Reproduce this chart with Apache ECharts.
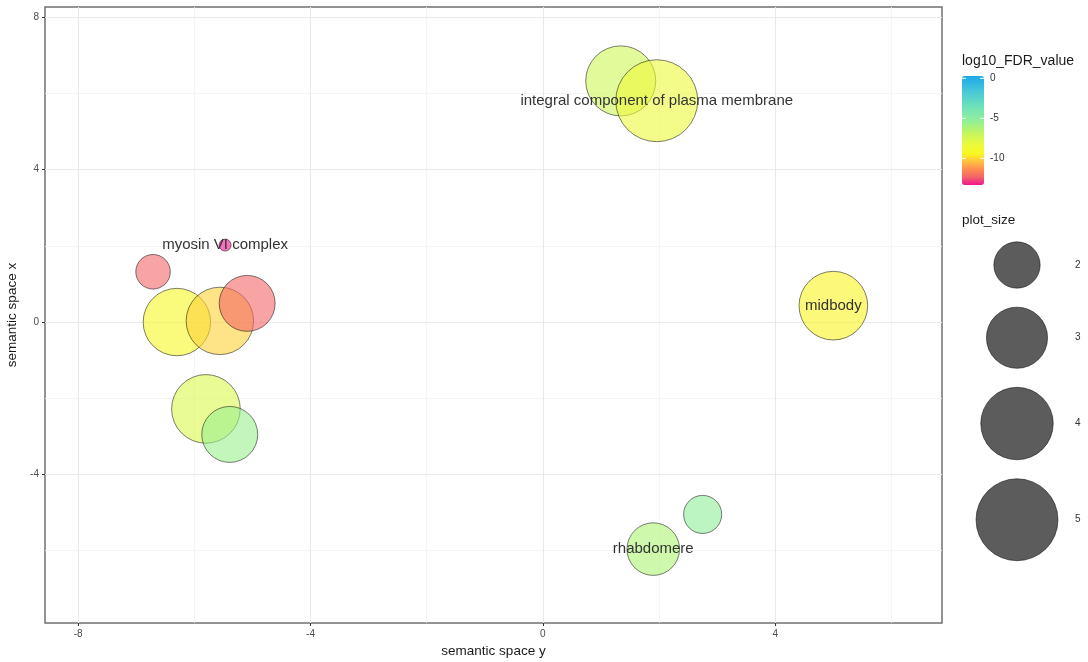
<!DOCTYPE html>
<html><head><meta charset="utf-8">
<script src="https://cdn.jsdelivr.net/npm/echarts@6/dist/echarts.min.js"></script>
<style>html,body{margin:0;padding:0;background:#fff}#c{width:1088px;height:662px}</style>
</head><body><div id="c"></div>
<script>
// ---- data ----
const plotY = [-6.71, -5.47, -6.30, -5.56, -5.09, -5.80, -5.39, 1.34, 1.96, 2.75, 1.90, 5.00];   // horizontal axis
const plotX = [1.32, 2.02, 0.00, 0.03, 0.49, -2.28, -2.95, 6.33, 5.81, -5.05, -5.96, 0.43];       // vertical axis
const plotSize = [1.46, 1.05, 3.53, 3.53, 2.61, 3.64, 2.61, 3.77, 5.00, 1.60, 2.38, 3.64];
const log10FDR = [-12.3, -13.33, -9.2, -10.1, -12.3, -7.6, -5.6, -7.2, -8.4, -5.2, -6.2, -9.5];
const labels = ['', 'myosin VI complex', '', '', '', '', '', '', 'integral component of plasma membrane', '', 'rhabdomere', 'midbody'];
const xTicks = [-8, -4, 0, 4];
const yTicks = [-4, 0, 4, 8];
const xMinor = [-6, -2, 2, 6];
const yMinor = [-6, -2, 2, 6];
const colorTicks = [0, -5, -10];
const sizeLegendValues = [2, 3, 4, 5];

// ---- scales / styles ----
const FONT = "'Liberation Sans', Arial, Helvetica, sans-serif";
const colorMin = -13.33, colorMax = 0.29;
const gradient = ['#f0158f', '#f26468', '#ff8c50', '#ffc040', '#f8f820', '#eefa38', '#d6f850', '#b8f468',
                  '#98f090', '#85eaa8', '#70e2b8', '#5ad6c8', '#48c8d8', '#32b8e0', '#1ea8e6'];
function withAlpha(hex, a) {
  const n = parseInt(hex.slice(1), 16);
  return 'rgba(' + (n >> 16 & 255) + ',' + (n >> 8 & 255) + ',' + (n & 255) + ',' + a + ')';
}
const R0 = 6, K = 17.6, V0 = 1.05;
function radius(v) { return R0 + K * Math.sqrt(Math.max(v - V0, 0)); }

const data = plotY.map((x, i) => [x, plotX[i], plotSize[i], log10FDR[i], labels[i]]);

const gridLineData = []
  .concat(xMinor.map(v => ({ xAxis: v, lineStyle: { color: '#f2f2f2', width: 0.8, type: 'solid' } })))
  .concat(yMinor.map(v => ({ yAxis: v, lineStyle: { color: '#f2f2f2', width: 0.8, type: 'solid' } })))
  .concat(xTicks.map(v => ({ xAxis: v, lineStyle: { color: '#e9e9e9', width: 1.1, type: 'solid' } })))
  .concat(yTicks.map(v => ({ yAxis: v, lineStyle: { color: '#e9e9e9', width: 1.1, type: 'solid' } })));

// colour bar geometry
const barLeft = 962, barTop = 76, barW = 22, barH = 109;
const graphics = [];
graphics.push({ type: 'text', left: 962, top: 54, style: { text: 'log10_FDR_value', font: '14px ' + FONT, fill: '#1a1a1a' } });
colorTicks.forEach(v => {
  const y = barTop + (colorMax - v) / (colorMax - colorMin) * barH;
  graphics.push({ type: 'text', x: 990, y: y, style: { text: String(v), font: '10px ' + FONT, fill: '#333', verticalAlign: 'middle', textAlign: 'left' }, z: 10 });
  graphics.push({ type: 'line', shape: { x1: barLeft, y1: y, x2: barLeft + 4, y2: y }, style: { stroke: '#fff', lineWidth: 1 }, z: 10 });
  graphics.push({ type: 'line', shape: { x1: barLeft + barW - 4, y1: y, x2: barLeft + barW, y2: y }, style: { stroke: '#fff', lineWidth: 1 }, z: 10 });
});
graphics.push({ type: 'text', left: 962, top: 213, style: { text: 'plot_size', font: '13.5px ' + FONT, fill: '#1a1a1a' } });
let cy = 265 - radius(sizeLegendValues[0]);
const pad = 9.5;
sizeLegendValues.forEach((v, i) => {
  const r = radius(v);
  if (i > 0) cy += pad * 2;
  const c = cy + r;
  graphics.push({ type: 'circle', shape: { cx: 1017, cy: c, r: r }, style: { fill: 'rgba(0,0,0,0.64)', stroke: 'rgba(0,0,0,0.5)', lineWidth: 1 } });
  graphics.push({ type: 'text', x: 1075, y: c, style: { text: String(v), font: '10px ' + FONT, fill: '#333', verticalAlign: 'middle' } });
  cy = c + r;
});

const chart = echarts.init(document.getElementById('c'), null, { renderer: 'canvas' });
chart.setOption({
  animation: false,
  backgroundColor: '#fff',
  grid: { left: 45, right: 146, top: 7, bottom: 39, show: true, borderColor: '#707070', borderWidth: 1.5,
          backgroundColor: 'transparent', containLabel: false, outerBoundsMode: 'none' },
  xAxis: {
    type: 'value', min: -8.57, max: 6.87,
    name: 'semantic space y', nameLocation: 'middle', nameGap: 21,
    nameTextStyle: { fontFamily: FONT, fontSize: 13.5, color: '#1a1a1a' },
    axisLine: { show: false, onZero: false },
    axisTick: { show: true, length: 3, customValues: xTicks, lineStyle: { color: '#333' } },
    axisLabel: { customValues: xTicks, fontFamily: FONT, fontSize: 10, color: '#4d4d4d', margin: 6 },
    splitLine: { show: false }
  },
  yAxis: {
    type: 'value', min: -7.90, max: 8.27,
    name: 'semantic space x', nameLocation: 'middle', nameGap: 20,
    nameTextStyle: { fontFamily: FONT, fontSize: 13.5, color: '#1a1a1a' },
    axisLine: { show: false, onZero: false },
    axisTick: { show: true, length: 3, customValues: yTicks, lineStyle: { color: '#333' } },
    axisLabel: { customValues: yTicks, fontFamily: FONT, fontSize: 10, color: '#4d4d4d', margin: 6 },
    splitLine: { show: false }
  },
  visualMap: [
    {
      type: 'continuous', show: true, seriesIndex: [2], dimension: 0,
      min: colorMin, max: colorMax, calculable: false, hoverLink: false,
      left: barLeft, top: barTop, itemWidth: barW, itemHeight: barH, padding: 0,
      text: null, showLabel: false,
      inRange: { color: gradient }
    },
    {
      type: 'continuous', show: false, seriesIndex: [1], dimension: 3,
      min: colorMin, max: colorMax,
      inRange: { color: gradient.map(c => withAlpha(c, 0.6)) }
    }
  ],
  series: [
    {
      type: 'line', data: [], silent: true, z: 0,
      markLine: { silent: true, z: 0, zlevel: 0, symbol: ['none', 'none'], label: { show: false }, data: gridLineData, animation: false }
    },
    {
      type: 'scatter', z: 6, silent: true,
      data: data,
      symbolSize: v => 2 * radius(v[2]),
      itemStyle: { borderColor: 'rgba(0,0,0,0.5)', borderWidth: 1, opacity: 1 },
      label: {
        show: true, position: 'inside',
        formatter: p => p.data[4],
        fontFamily: FONT, fontSize: 15, color: '#333'
      },
      emphasis: { disabled: true }
    },
    { type: 'scatter', data: [], silent: true }
  ],
  graphic: graphics
});
</script>
</body></html>
